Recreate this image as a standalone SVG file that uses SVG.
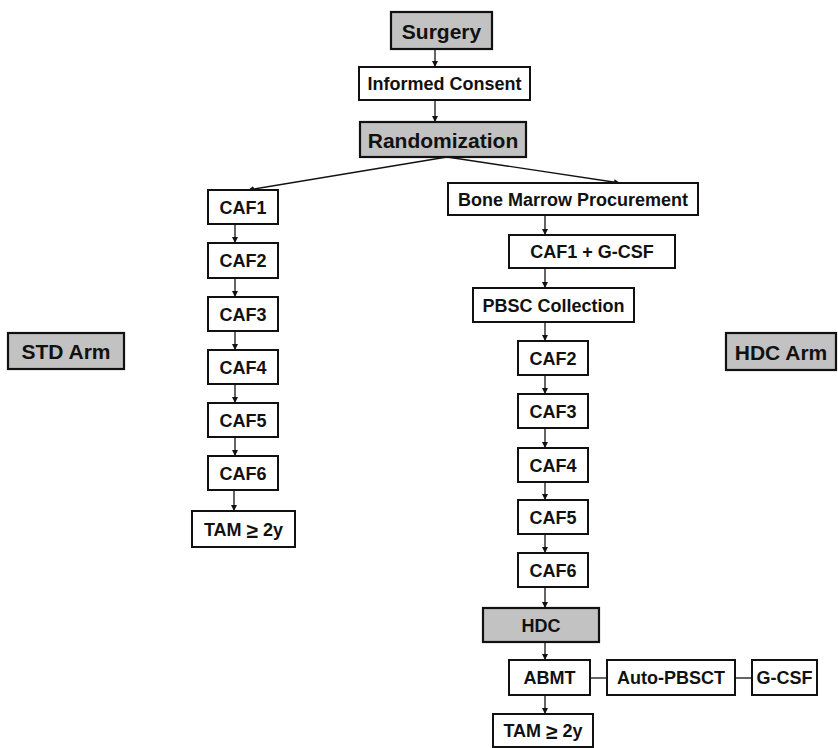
<svg xmlns="http://www.w3.org/2000/svg" width="838" height="748" viewBox="0 0 838 748">
<style>
.b{fill:#fff;stroke:#111;stroke-width:2}
.g{fill:#c2c2c2;stroke:#111;stroke-width:2.2}
text{font-family:"Liberation Sans",Arial,sans-serif;font-weight:bold;fill:#111;text-anchor:middle;dominant-baseline:central;font-size:18px}
.big{font-size:21px}
.ge{font-size:21px}
.c{stroke:#111;stroke-width:1.3;fill:none}
</style>
<defs>
<marker id="ah" markerUnits="userSpaceOnUse" markerWidth="6" markerHeight="6" refX="6" refY="3" orient="auto">
<path d="M0,0 L6,3 L0,6 z" fill="#111"/>
</marker>
</defs>
<rect width="838" height="748" fill="#fff"/>
<g id="connectors">
<path class="c" marker-end="url(#ah)" d="M435,49 V67"/>
<path class="c" marker-end="url(#ah)" d="M435,100 V122"/>
<path class="c" marker-end="url(#ah)" d="M447,157 L248,190"/>
<path class="c" marker-end="url(#ah)" d="M447,157 L620,183"/>
<path class="c" marker-end="url(#ah)" d="M235,224 V243"/>
<path class="c" marker-end="url(#ah)" d="M235,278 V297"/>
<path class="c" marker-end="url(#ah)" d="M235,331 V350"/>
<path class="c" marker-end="url(#ah)" d="M235,384 V403"/>
<path class="c" marker-end="url(#ah)" d="M235,437 V456"/>
<path class="c" marker-end="url(#ah)" d="M234,490 V511"/>
<path class="c" marker-end="url(#ah)" d="M545,215 V235"/>
<path class="c" marker-end="url(#ah)" d="M545,268 V288"/>
<path class="c" marker-end="url(#ah)" d="M545,322 V341"/>
<path class="c" marker-end="url(#ah)" d="M545,375 V394"/>
<path class="c" marker-end="url(#ah)" d="M545,428 V448"/>
<path class="c" marker-end="url(#ah)" d="M545,482 V500"/>
<path class="c" marker-end="url(#ah)" d="M545,534 V553"/>
<path class="c" marker-end="url(#ah)" d="M545,587 V608"/>
<path class="c" marker-end="url(#ah)" d="M545,642 V660"/>
<path class="c" marker-end="url(#ah)" d="M545,695 V714"/>
<path class="c" d="M590,678 H607"/>
<path class="c" d="M735,678 H752"/>
</g>
<g id="surgery"><rect class="g" x="391" y="12" width="101" height="37"/><text class="big" x="441.5" y="31">Surgery</text></g>
<g id="consent"><rect class="b" x="359" y="67" width="171" height="33"/><text x="444.5" y="84">Informed Consent</text></g>
<g id="randomization"><rect class="g" x="360" y="122" width="166" height="35"/><text class="big" x="443" y="140">Randomization</text></g>
<g id="std-arm"><rect class="g" x="8" y="333" width="116" height="36"/><text class="big" x="66" y="351.5">STD Arm</text></g>
<g id="hdc-arm"><rect class="g" x="726" y="333" width="110" height="37"/><text class="big" x="781" y="352">HDC Arm</text></g>
<g id="l-caf1"><rect class="b" x="208" y="190" width="70" height="34"/><text x="243" y="207.5">CAF1</text></g>
<g id="l-caf2"><rect class="b" x="208" y="243" width="70" height="35"/><text x="243" y="261">CAF2</text></g>
<g id="l-caf3"><rect class="b" x="208" y="297" width="70" height="34"/><text x="243" y="314.5">CAF3</text></g>
<g id="l-caf4"><rect class="b" x="208" y="350" width="70" height="34"/><text x="243" y="367.5">CAF4</text></g>
<g id="l-caf5"><rect class="b" x="208" y="403" width="70" height="34"/><text x="243" y="420.5">CAF5</text></g>
<g id="l-caf6"><rect class="b" x="208" y="456" width="70" height="34"/><text x="243" y="473.5">CAF6</text></g>
<g id="l-tam"><rect class="b" x="192" y="511" width="103" height="36"/><text x="243.5" y="529.5">TAM <tspan class="ge">≥</tspan> 2y</text></g>
<g id="bmp"><rect class="b" x="448" y="183" width="250" height="32"/><text x="573" y="199.5">Bone Marrow Procurement</text></g>
<g id="caf1-gcsf"><rect class="b" x="509" y="235" width="166" height="33"/><text x="592" y="252">CAF1 + G-CSF</text></g>
<g id="pbsc"><rect class="b" x="473" y="288" width="161" height="34"/><text x="553.5" y="305.5">PBSC Collection</text></g>
<g id="r-caf2"><rect class="b" x="518" y="341" width="70" height="34"/><text x="553" y="358.5">CAF2</text></g>
<g id="r-caf3"><rect class="b" x="518" y="394" width="70" height="34"/><text x="553" y="411.5">CAF3</text></g>
<g id="r-caf4"><rect class="b" x="518" y="448" width="70" height="34"/><text x="553" y="465.5">CAF4</text></g>
<g id="r-caf5"><rect class="b" x="518" y="500" width="70" height="34"/><text x="553" y="517.5">CAF5</text></g>
<g id="r-caf6"><rect class="b" x="518" y="553" width="70" height="34"/><text x="553" y="570.5">CAF6</text></g>
<g id="hdc"><rect class="g" x="483" y="608" width="116" height="34"/><text x="541" y="625.5">HDC</text></g>
<g id="abmt"><rect class="b" x="509" y="660" width="81" height="35"/><text x="549.5" y="678">ABMT</text></g>
<g id="auto-pbsct"><rect class="b" x="607" y="660" width="128" height="35"/><text x="671" y="678">Auto-PBSCT</text></g>
<g id="gcsf"><rect class="b" x="752" y="660" width="65" height="35"/><text x="784.5" y="678">G-CSF</text></g>
<g id="r-tam"><rect class="b" x="493" y="714" width="100" height="33"/><text x="543" y="731">TAM <tspan class="ge">≥</tspan> 2y</text></g>
</svg>
